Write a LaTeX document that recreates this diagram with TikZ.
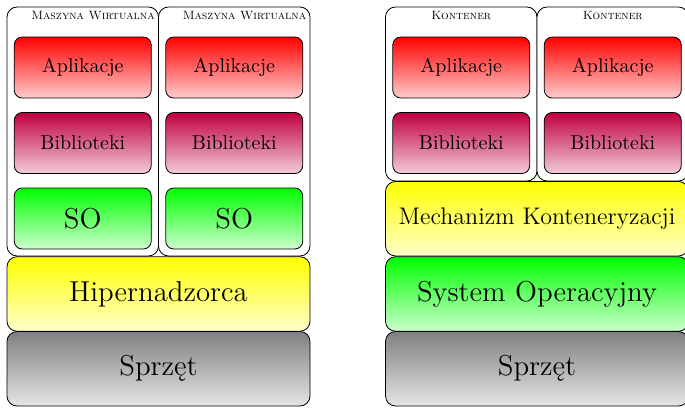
\documentclass[tikz,border=0pt]{standalone}
\begin{document}
\begin{tikzpicture}[x=0.5pt,y=-0.5pt,
  frame/.style={draw, rounded corners=5pt, fill=white, inner sep=0pt,
    minimum width=75.75pt},
  vmframe/.style={frame, minimum height=124.5pt},
  ctframe/.style={frame, minimum height=87pt},
  card/.style={draw, rounded corners=4pt, inner sep=0pt,
    minimum width=68.5pt, minimum height=30.5pt},
  layer/.style={draw, rounded corners=5pt, inner sep=0pt,
    minimum width=151.5pt, minimum height=37.25pt},
  shade/.style={top color=#1, bottom color=#1!20},
  apl/.style={card, shade=red},
  bib/.style={card, shade=purple},
  os/.style={card, shade=green, font=\Large},
  title/.style={font=\fontsize{6}{7}\selectfont\scshape, inner sep=0pt}
]
\useasboundingbox (0,0) rectangle (685,407);

% ---- virtual machines ----
\node[vmframe] (vm1) at (82.75,131.5) {};
\node[vmframe] (vm2) at (234.25,131.5) {};
\node[title, anchor=east] (vm1t) at (155,15.5) {Maszyna Wirtualna};
\node[title, anchor=east] (vm2t) at (306.5,15.5) {Maszyna Wirtualna};
\foreach \c/\n in {82.75/1, 234.25/2} {
  \node[apl] (apl\n) at (\c,67.5) {Aplikacje};
  \node[bib] (bib\n) at (\c,143) {Biblioteki};
  \node[os]  (so\n)  at (\c,218.5) {SO};
}
\node[layer, shade=yellow, font=\Large] (hyp) at (158.5,294) {Hipernadzorca};
\node[layer, shade=gray, font=\Large] (hw1) at (158.5,368.75) {Sprzęt};

% ---- containers ----
\node[ctframe] (ct1) at (461.25,94) {};
\node[ctframe] (ct2) at (612.75,94) {};
\node[title] (ct1t) at (461.25,15.5) {Kontener};
\node[title] (ct2t) at (612.75,15.5) {Kontener};
\foreach \c/\n in {461.25/3, 612.75/4} {
  \node[apl] (apl\n) at (\c,67.5) {Aplikacje};
  \node[bib] (bib\n) at (\c,143) {Biblioteki};
}
\node[layer, shade=yellow, font=\large] (eng) at (537,218.75) {Mechanizm Konteneryzacji};
\node[layer, shade=green, font=\Large] (sys) at (537,294) {System Operacyjny};
\node[layer, shade=gray, font=\Large] (hw2) at (537,368.75) {Sprzęt};
\end{tikzpicture}
\end{document}
